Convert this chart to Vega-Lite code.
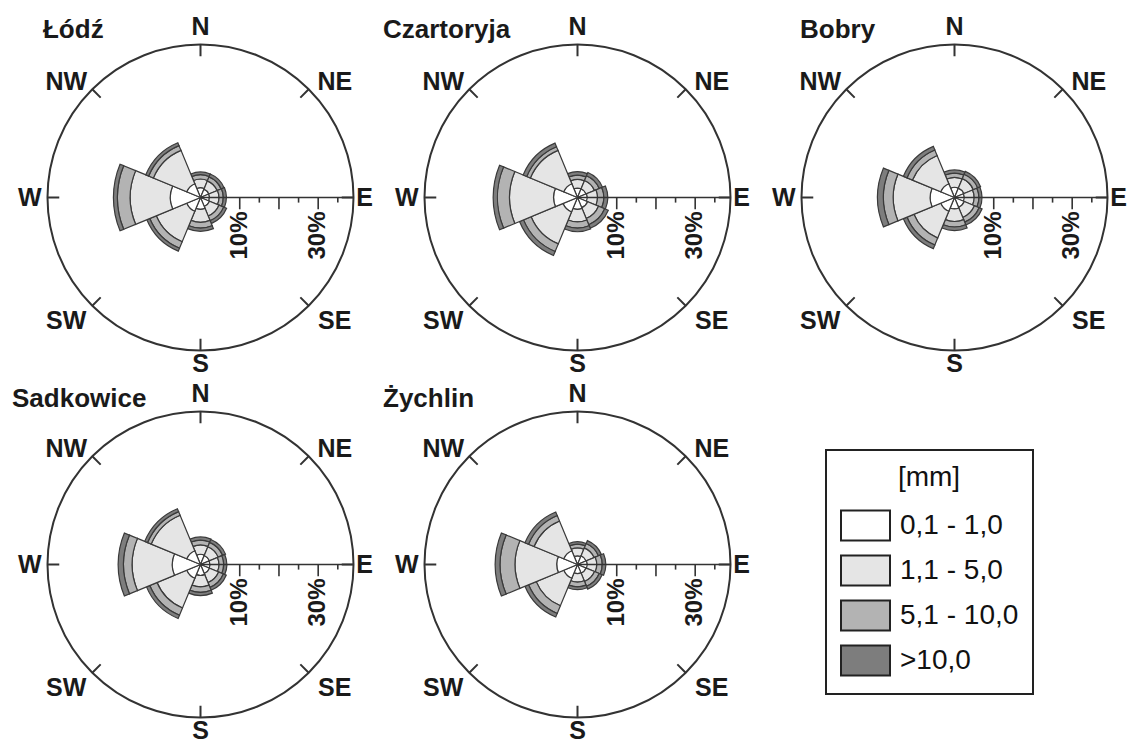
{
"$schema":"https://vega.github.io/schema/vega-lite/v6.json",
"autosize":{"type":"pad"},
"padding":{"left":12,"top":14,"right":0,"bottom":0},
"background":"#ffffff",
"bounds":"flush",
"spacing":0,
"columns":3,
"datasets":{
"rose":[
{"station":"Łódź","deg":0,"0,1 - 1,0":2.5,"1,1 - 5,0":2.2,"5,1 - 10,0":1.1,">10,0":0.7},
{"station":"Łódź","deg":45,"0,1 - 1,0":2.3,"1,1 - 5,0":2.3,"5,1 - 10,0":1.1,">10,0":0.8},
{"station":"Łódź","deg":90,"0,1 - 1,0":2.3,"1,1 - 5,0":2.4,"5,1 - 10,0":1.1,">10,0":0.8},
{"station":"Łódź","deg":135,"0,1 - 1,0":2.5,"1,1 - 5,0":2.6,"5,1 - 10,0":1.3,">10,0":0.8},
{"station":"Łódź","deg":180,"0,1 - 1,0":3.0,"1,1 - 5,0":3.3,"5,1 - 10,0":1.5,">10,0":0.8},
{"station":"Łódź","deg":225,"0,1 - 1,0":3.8,"1,1 - 5,0":8.4,"5,1 - 10,0":1.8,">10,0":0.8},
{"station":"Łódź","deg":270,"0,1 - 1,0":7.7,"1,1 - 5,0":10.2,"5,1 - 10,0":3.3,">10,0":1.0},
{"station":"Łódź","deg":315,"0,1 - 1,0":3.8,"1,1 - 5,0":9.2,"5,1 - 10,0":1.3,">10,0":0.8},
{"station":"Czartoryja","deg":0,"0,1 - 1,0":2.4,"1,1 - 5,0":2.2,"5,1 - 10,0":1.1,">10,0":0.9},
{"station":"Czartoryja","deg":45,"0,1 - 1,0":2.4,"1,1 - 5,0":2.3,"5,1 - 10,0":1.3,">10,0":0.9},
{"station":"Czartoryja","deg":90,"0,1 - 1,0":2.5,"1,1 - 5,0":2.6,"5,1 - 10,0":1.6,">10,0":1.0},
{"station":"Czartoryja","deg":135,"0,1 - 1,0":2.8,"1,1 - 5,0":3.0,"5,1 - 10,0":1.7,">10,0":1.0},
{"station":"Czartoryja","deg":180,"0,1 - 1,0":3.0,"1,1 - 5,0":3.2,"5,1 - 10,0":1.6,">10,0":0.9},
{"station":"Czartoryja","deg":225,"0,1 - 1,0":4.0,"1,1 - 5,0":8.8,"5,1 - 10,0":2.1,">10,0":1.1},
{"station":"Czartoryja","deg":270,"0,1 - 1,0":6.1,"1,1 - 5,0":11.2,"5,1 - 10,0":3.1,">10,0":1.1},
{"station":"Czartoryja","deg":315,"0,1 - 1,0":3.8,"1,1 - 5,0":9.2,"5,1 - 10,0":1.0,">10,0":1.0},
{"station":"Bobry","deg":0,"0,1 - 1,0":2.6,"1,1 - 5,0":2.5,"5,1 - 10,0":1.1,">10,0":0.8},
{"station":"Bobry","deg":45,"0,1 - 1,0":2.6,"1,1 - 5,0":2.6,"5,1 - 10,0":1.2,">10,0":0.8},
{"station":"Bobry","deg":90,"0,1 - 1,0":2.5,"1,1 - 5,0":2.5,"5,1 - 10,0":1.2,">10,0":0.8},
{"station":"Bobry","deg":135,"0,1 - 1,0":2.7,"1,1 - 5,0":2.8,"5,1 - 10,0":1.3,">10,0":0.8},
{"station":"Bobry","deg":180,"0,1 - 1,0":2.9,"1,1 - 5,0":3.2,"5,1 - 10,0":1.4,">10,0":0.9},
{"station":"Bobry","deg":225,"0,1 - 1,0":3.8,"1,1 - 5,0":7.4,"5,1 - 10,0":1.9,">10,0":1.0},
{"station":"Bobry","deg":270,"0,1 - 1,0":6.2,"1,1 - 5,0":9.4,"5,1 - 10,0":2.5,">10,0":1.5},
{"station":"Bobry","deg":315,"0,1 - 1,0":3.8,"1,1 - 5,0":7.8,"5,1 - 10,0":1.5,">10,0":1.0},
{"station":"Sadkowice","deg":0,"0,1 - 1,0":2.6,"1,1 - 5,0":2.4,"5,1 - 10,0":1.2,">10,0":0.8},
{"station":"Sadkowice","deg":45,"0,1 - 1,0":2.5,"1,1 - 5,0":2.4,"5,1 - 10,0":1.2,">10,0":0.8},
{"station":"Sadkowice","deg":90,"0,1 - 1,0":2.4,"1,1 - 5,0":2.3,"5,1 - 10,0":1.2,">10,0":0.8},
{"station":"Sadkowice","deg":135,"0,1 - 1,0":2.5,"1,1 - 5,0":2.5,"5,1 - 10,0":1.3,">10,0":0.8},
{"station":"Sadkowice","deg":180,"0,1 - 1,0":2.8,"1,1 - 5,0":2.9,"5,1 - 10,0":1.4,">10,0":0.8},
{"station":"Sadkowice","deg":225,"0,1 - 1,0":3.8,"1,1 - 5,0":8.2,"5,1 - 10,0":2.0,">10,0":0.9},
{"station":"Sadkowice","deg":270,"0,1 - 1,0":7.2,"1,1 - 5,0":10.2,"5,1 - 10,0":2.2,">10,0":1.4},
{"station":"Sadkowice","deg":315,"0,1 - 1,0":3.8,"1,1 - 5,0":9.8,"5,1 - 10,0":1.0,">10,0":0.8},
{"station":"Żychlin","deg":0,"0,1 - 1,0":2.2,"1,1 - 5,0":2.0,"5,1 - 10,0":1.0,">10,0":0.6},
{"station":"Żychlin","deg":45,"0,1 - 1,0":2.4,"1,1 - 5,0":2.2,"5,1 - 10,0":1.2,">10,0":0.8},
{"station":"Żychlin","deg":90,"0,1 - 1,0":2.5,"1,1 - 5,0":2.4,"5,1 - 10,0":1.4,">10,0":0.9},
{"station":"Żychlin","deg":135,"0,1 - 1,0":2.4,"1,1 - 5,0":2.3,"5,1 - 10,0":1.3,">10,0":0.8},
{"station":"Żychlin","deg":180,"0,1 - 1,0":2.3,"1,1 - 5,0":2.2,"5,1 - 10,0":1.2,">10,0":0.7},
{"station":"Żychlin","deg":225,"0,1 - 1,0":3.8,"1,1 - 5,0":7.6,"5,1 - 10,0":2.1,">10,0":1.0},
{"station":"Żychlin","deg":270,"0,1 - 1,0":5.3,"1,1 - 5,0":10.6,"5,1 - 10,0":3.8,">10,0":1.3},
{"station":"Żychlin","deg":315,"0,1 - 1,0":3.8,"1,1 - 5,0":8.2,"5,1 - 10,0":1.5,">10,0":1.0}
],
"compass":[{"dir":"N","deg":0},{"dir":"NE","deg":45},{"dir":"E","deg":90},{"dir":"SE","deg":135},{"dir":"S","deg":180},{"dir":"SW","deg":225},{"dir":"W","deg":270},{"dir":"NW","deg":315}],
"ticks":[{"pct":10},{"pct":15},{"pct":20},{"pct":25},{"pct":30},{"pct":35}],
"ticklabels":[{"pct":10,"label":"10%"},{"pct":30,"label":"30%"}],
"stations":[{"station":"Łódź"},{"station":"Czartoryja"},{"station":"Bobry"},{"station":"Sadkowice"},{"station":"Żychlin"}],
"one":[{"k":1}]
},
"concat":[
{"width":377,"height":367,
"layer":[
{"data":{"name":"rose"},"transform":[{"filter":"datum.station === 'Łódź'"},{"fold":["0,1 - 1,0","1,1 - 5,0","5,1 - 10,0",">10,0"],"as":["class","v"]},{"bin":{"extent":[-22.5,337.5],"step":45,"anchor":-22.5,"nice":false},"field":"deg","as":["d0","d1"]},{"stack":"v","groupby":["deg"],"sort":[{"field":"class","order":"ascending"}],"as":["r0","r1"]}],
"mark":{"type":"arc","stroke":"#3a3a3a","strokeWidth":1.2},
"encoding":{"theta":{"field":"d0","type":"quantitative","stack":null,"scale":{"domain":[0,360],"range":[0,6.283185307179586],"nice":false,"zero":false}},"theta2":{"field":"d1"},"radius":{"field":"r1","type":"quantitative","stack":null,"scale":{"type":"linear","domain":[0,39],"range":[0,153],"nice":false,"zero":true}},"radius2":{"field":"r0"},"color":{"field":"class","type":"nominal","title":"[mm]","scale":{"domain":["0,1 - 1,0","1,1 - 5,0","5,1 - 10,0",">10,0"],"range":["#ffffff","#e5e5e5","#b3b3b3","#7d7d7d"]}}}},
{"data":{"name":"one"},"mark":{"type":"arc","filled":false,"stroke":"#333333","strokeWidth":2},"encoding":{"theta":{"datum":0,"type":"quantitative"},"theta2":{"datum":360},"radius":{"datum":39,"type":"quantitative"}}},
{"data":{"name":"compass"},"mark":{"type":"arc","filled":false,"stroke":"#333333","strokeWidth":2},"encoding":{"theta":{"field":"deg","type":"quantitative","stack":null},"theta2":{"field":"deg"},"radius":{"datum":36,"type":"quantitative"},"radius2":{"datum":39}}},
{"data":{"name":"one"},"mark":{"type":"arc","filled":false,"stroke":"#333333","strokeWidth":1.6},"encoding":{"theta":{"datum":90,"type":"quantitative"},"theta2":{"datum":90},"radius":{"datum":39,"type":"quantitative"},"radius2":{"datum":0}}},
{"data":{"name":"ticks"},"transform":[{"filter":"datum.pct % 10 === 0"}],"mark":{"type":"rule","stroke":"#333333","strokeWidth":1.6},"encoding":{"x":{"field":"pct","type":"quantitative","axis":null,"scale":{"domain":[-48.05,48.05],"nice":false,"zero":false}},"y":{"datum":0,"type":"quantitative","axis":null,"scale":{"domain":[-46.77,46.77],"nice":false,"zero":false}},"y2":{"datum":-3}}},
{"data":{"name":"ticks"},"transform":[{"filter":"datum.pct % 10 !== 0"}],"mark":{"type":"rule","stroke":"#333333","strokeWidth":1.6},"encoding":{"x":{"field":"pct","type":"quantitative","axis":null},"y":{"datum":0,"type":"quantitative","axis":null},"y2":{"datum":-1.3}}},
{"data":{"name":"ticklabels"},"mark":{"type":"text","angle":270,"align":"right","baseline":"middle","dx":-14,"fontSize":24,"fontWeight":"bold","color":"#1a1a1a"},"encoding":{"x":{"field":"pct","type":"quantitative","axis":null},"y":{"datum":0,"type":"quantitative","axis":null},"text":{"field":"label"}}},
{"data":{"name":"stations"},"transform":[{"filter":"datum.station === 'Łódź'"}],"mark":{"type":"text","align":"left","baseline":"alphabetic","fontSize":26,"fontWeight":"bold","color":"#1a1a1a"},"encoding":{"x":{"datum":-40.15,"type":"quantitative","axis":null},"y":{"datum":40.66,"type":"quantitative","axis":null},"text":{"field":"station"}}},
{"data":{"name":"compass"},"transform":[{"filter":"datum.deg === 0 || datum.deg === 270"}],"mark":{"type":"text","fontSize":25,"fontWeight":"bold","color":"#1a1a1a","align":"center","baseline":"middle"},"encoding":{"theta":{"field":"deg","type":"quantitative","stack":null},"radius":{"datum":43.5,"type":"quantitative"},"text":{"field":"dir"}}},
{"data":{"name":"compass"},"transform":[{"filter":"datum.deg === 90"}],"mark":{"type":"text","fontSize":25,"fontWeight":"bold","color":"#1a1a1a","align":"center","baseline":"middle"},"encoding":{"theta":{"field":"deg","type":"quantitative","stack":null},"radius":{"datum":41.8,"type":"quantitative"},"text":{"field":"dir"}}},
{"data":{"name":"compass"},"transform":[{"filter":"datum.deg === 180"}],"mark":{"type":"text","fontSize":25,"fontWeight":"bold","color":"#1a1a1a","align":"center","baseline":"middle"},"encoding":{"theta":{"field":"deg","type":"quantitative","stack":null},"radius":{"datum":42.4,"type":"quantitative"},"text":{"field":"dir"}}},
{"data":{"name":"compass"},"transform":[{"filter":"datum.deg === 45 || datum.deg === 135"}],"mark":{"type":"text","fontSize":25,"fontWeight":"bold","color":"#1a1a1a","align":"center","baseline":"middle","dx":15,"dy":4},"encoding":{"theta":{"field":"deg","type":"quantitative","stack":null},"radius":{"datum":43,"type":"quantitative"},"text":{"field":"dir"}}},
{"data":{"name":"compass"},"transform":[{"filter":"datum.deg === 225 || datum.deg === 315"}],"mark":{"type":"text","fontSize":25,"fontWeight":"bold","color":"#1a1a1a","align":"center","baseline":"middle","dx":-15,"dy":4},"encoding":{"theta":{"field":"deg","type":"quantitative","stack":null},"radius":{"datum":43,"type":"quantitative"},"text":{"field":"dir"}}}
]},
{"width":377,"height":367,
"layer":[
{"data":{"name":"rose"},"transform":[{"filter":"datum.station === 'Czartoryja'"},{"fold":["0,1 - 1,0","1,1 - 5,0","5,1 - 10,0",">10,0"],"as":["class","v"]},{"bin":{"extent":[-22.5,337.5],"step":45,"anchor":-22.5,"nice":false},"field":"deg","as":["d0","d1"]},{"stack":"v","groupby":["deg"],"sort":[{"field":"class","order":"ascending"}],"as":["r0","r1"]}],
"mark":{"type":"arc","stroke":"#3a3a3a","strokeWidth":1.2},
"encoding":{"theta":{"field":"d0","type":"quantitative","stack":null,"scale":{"domain":[0,360],"range":[0,6.283185307179586],"nice":false,"zero":false}},"theta2":{"field":"d1"},"radius":{"field":"r1","type":"quantitative","stack":null,"scale":{"type":"linear","domain":[0,39],"range":[0,153],"nice":false,"zero":true}},"radius2":{"field":"r0"},"color":{"field":"class","type":"nominal","title":"[mm]","scale":{"domain":["0,1 - 1,0","1,1 - 5,0","5,1 - 10,0",">10,0"],"range":["#ffffff","#e5e5e5","#b3b3b3","#7d7d7d"]}}}},
{"data":{"name":"one"},"mark":{"type":"arc","filled":false,"stroke":"#333333","strokeWidth":2},"encoding":{"theta":{"datum":0,"type":"quantitative"},"theta2":{"datum":360},"radius":{"datum":39,"type":"quantitative"}}},
{"data":{"name":"compass"},"mark":{"type":"arc","filled":false,"stroke":"#333333","strokeWidth":2},"encoding":{"theta":{"field":"deg","type":"quantitative","stack":null},"theta2":{"field":"deg"},"radius":{"datum":36,"type":"quantitative"},"radius2":{"datum":39}}},
{"data":{"name":"one"},"mark":{"type":"arc","filled":false,"stroke":"#333333","strokeWidth":1.6},"encoding":{"theta":{"datum":90,"type":"quantitative"},"theta2":{"datum":90},"radius":{"datum":39,"type":"quantitative"},"radius2":{"datum":0}}},
{"data":{"name":"ticks"},"transform":[{"filter":"datum.pct % 10 === 0"}],"mark":{"type":"rule","stroke":"#333333","strokeWidth":1.6},"encoding":{"x":{"field":"pct","type":"quantitative","axis":null,"scale":{"domain":[-48.05,48.05],"nice":false,"zero":false}},"y":{"datum":0,"type":"quantitative","axis":null,"scale":{"domain":[-46.77,46.77],"nice":false,"zero":false}},"y2":{"datum":-3}}},
{"data":{"name":"ticks"},"transform":[{"filter":"datum.pct % 10 !== 0"}],"mark":{"type":"rule","stroke":"#333333","strokeWidth":1.6},"encoding":{"x":{"field":"pct","type":"quantitative","axis":null},"y":{"datum":0,"type":"quantitative","axis":null},"y2":{"datum":-1.3}}},
{"data":{"name":"ticklabels"},"mark":{"type":"text","angle":270,"align":"right","baseline":"middle","dx":-14,"fontSize":24,"fontWeight":"bold","color":"#1a1a1a"},"encoding":{"x":{"field":"pct","type":"quantitative","axis":null},"y":{"datum":0,"type":"quantitative","axis":null},"text":{"field":"label"}}},
{"data":{"name":"stations"},"transform":[{"filter":"datum.station === 'Czartoryja'"}],"mark":{"type":"text","align":"left","baseline":"alphabetic","fontSize":26,"fontWeight":"bold","color":"#1a1a1a"},"encoding":{"x":{"datum":-49.58,"type":"quantitative","axis":null},"y":{"datum":40.66,"type":"quantitative","axis":null},"text":{"field":"station"}}},
{"data":{"name":"compass"},"transform":[{"filter":"datum.deg === 0 || datum.deg === 270"}],"mark":{"type":"text","fontSize":25,"fontWeight":"bold","color":"#1a1a1a","align":"center","baseline":"middle"},"encoding":{"theta":{"field":"deg","type":"quantitative","stack":null},"radius":{"datum":43.5,"type":"quantitative"},"text":{"field":"dir"}}},
{"data":{"name":"compass"},"transform":[{"filter":"datum.deg === 90"}],"mark":{"type":"text","fontSize":25,"fontWeight":"bold","color":"#1a1a1a","align":"center","baseline":"middle"},"encoding":{"theta":{"field":"deg","type":"quantitative","stack":null},"radius":{"datum":41.8,"type":"quantitative"},"text":{"field":"dir"}}},
{"data":{"name":"compass"},"transform":[{"filter":"datum.deg === 180"}],"mark":{"type":"text","fontSize":25,"fontWeight":"bold","color":"#1a1a1a","align":"center","baseline":"middle"},"encoding":{"theta":{"field":"deg","type":"quantitative","stack":null},"radius":{"datum":42.4,"type":"quantitative"},"text":{"field":"dir"}}},
{"data":{"name":"compass"},"transform":[{"filter":"datum.deg === 45 || datum.deg === 135"}],"mark":{"type":"text","fontSize":25,"fontWeight":"bold","color":"#1a1a1a","align":"center","baseline":"middle","dx":15,"dy":4},"encoding":{"theta":{"field":"deg","type":"quantitative","stack":null},"radius":{"datum":43,"type":"quantitative"},"text":{"field":"dir"}}},
{"data":{"name":"compass"},"transform":[{"filter":"datum.deg === 225 || datum.deg === 315"}],"mark":{"type":"text","fontSize":25,"fontWeight":"bold","color":"#1a1a1a","align":"center","baseline":"middle","dx":-15,"dy":4},"encoding":{"theta":{"field":"deg","type":"quantitative","stack":null},"radius":{"datum":43,"type":"quantitative"},"text":{"field":"dir"}}}
]},
{"width":377,"height":367,
"layer":[
{"data":{"name":"rose"},"transform":[{"filter":"datum.station === 'Bobry'"},{"fold":["0,1 - 1,0","1,1 - 5,0","5,1 - 10,0",">10,0"],"as":["class","v"]},{"bin":{"extent":[-22.5,337.5],"step":45,"anchor":-22.5,"nice":false},"field":"deg","as":["d0","d1"]},{"stack":"v","groupby":["deg"],"sort":[{"field":"class","order":"ascending"}],"as":["r0","r1"]}],
"mark":{"type":"arc","stroke":"#3a3a3a","strokeWidth":1.2},
"encoding":{"theta":{"field":"d0","type":"quantitative","stack":null,"scale":{"domain":[0,360],"range":[0,6.283185307179586],"nice":false,"zero":false}},"theta2":{"field":"d1"},"radius":{"field":"r1","type":"quantitative","stack":null,"scale":{"type":"linear","domain":[0,39],"range":[0,153],"nice":false,"zero":true}},"radius2":{"field":"r0"},"color":{"field":"class","type":"nominal","title":"[mm]","scale":{"domain":["0,1 - 1,0","1,1 - 5,0","5,1 - 10,0",">10,0"],"range":["#ffffff","#e5e5e5","#b3b3b3","#7d7d7d"]}}}},
{"data":{"name":"one"},"mark":{"type":"arc","filled":false,"stroke":"#333333","strokeWidth":2},"encoding":{"theta":{"datum":0,"type":"quantitative"},"theta2":{"datum":360},"radius":{"datum":39,"type":"quantitative"}}},
{"data":{"name":"compass"},"mark":{"type":"arc","filled":false,"stroke":"#333333","strokeWidth":2},"encoding":{"theta":{"field":"deg","type":"quantitative","stack":null},"theta2":{"field":"deg"},"radius":{"datum":36,"type":"quantitative"},"radius2":{"datum":39}}},
{"data":{"name":"one"},"mark":{"type":"arc","filled":false,"stroke":"#333333","strokeWidth":1.6},"encoding":{"theta":{"datum":90,"type":"quantitative"},"theta2":{"datum":90},"radius":{"datum":39,"type":"quantitative"},"radius2":{"datum":0}}},
{"data":{"name":"ticks"},"transform":[{"filter":"datum.pct % 10 === 0"}],"mark":{"type":"rule","stroke":"#333333","strokeWidth":1.6},"encoding":{"x":{"field":"pct","type":"quantitative","axis":null,"scale":{"domain":[-48.05,48.05],"nice":false,"zero":false}},"y":{"datum":0,"type":"quantitative","axis":null,"scale":{"domain":[-46.77,46.77],"nice":false,"zero":false}},"y2":{"datum":-3}}},
{"data":{"name":"ticks"},"transform":[{"filter":"datum.pct % 10 !== 0"}],"mark":{"type":"rule","stroke":"#333333","strokeWidth":1.6},"encoding":{"x":{"field":"pct","type":"quantitative","axis":null},"y":{"datum":0,"type":"quantitative","axis":null},"y2":{"datum":-1.3}}},
{"data":{"name":"ticklabels"},"mark":{"type":"text","angle":270,"align":"right","baseline":"middle","dx":-14,"fontSize":24,"fontWeight":"bold","color":"#1a1a1a"},"encoding":{"x":{"field":"pct","type":"quantitative","axis":null},"y":{"datum":0,"type":"quantitative","axis":null},"text":{"field":"label"}}},
{"data":{"name":"stations"},"transform":[{"filter":"datum.station === 'Bobry'"}],"mark":{"type":"text","align":"left","baseline":"alphabetic","fontSize":26,"fontWeight":"bold","color":"#1a1a1a"},"encoding":{"x":{"datum":-39.38,"type":"quantitative","axis":null},"y":{"datum":40.66,"type":"quantitative","axis":null},"text":{"field":"station"}}},
{"data":{"name":"compass"},"transform":[{"filter":"datum.deg === 0 || datum.deg === 270"}],"mark":{"type":"text","fontSize":25,"fontWeight":"bold","color":"#1a1a1a","align":"center","baseline":"middle"},"encoding":{"theta":{"field":"deg","type":"quantitative","stack":null},"radius":{"datum":43.5,"type":"quantitative"},"text":{"field":"dir"}}},
{"data":{"name":"compass"},"transform":[{"filter":"datum.deg === 90"}],"mark":{"type":"text","fontSize":25,"fontWeight":"bold","color":"#1a1a1a","align":"center","baseline":"middle"},"encoding":{"theta":{"field":"deg","type":"quantitative","stack":null},"radius":{"datum":41.8,"type":"quantitative"},"text":{"field":"dir"}}},
{"data":{"name":"compass"},"transform":[{"filter":"datum.deg === 180"}],"mark":{"type":"text","fontSize":25,"fontWeight":"bold","color":"#1a1a1a","align":"center","baseline":"middle"},"encoding":{"theta":{"field":"deg","type":"quantitative","stack":null},"radius":{"datum":42.4,"type":"quantitative"},"text":{"field":"dir"}}},
{"data":{"name":"compass"},"transform":[{"filter":"datum.deg === 45 || datum.deg === 135"}],"mark":{"type":"text","fontSize":25,"fontWeight":"bold","color":"#1a1a1a","align":"center","baseline":"middle","dx":15,"dy":4},"encoding":{"theta":{"field":"deg","type":"quantitative","stack":null},"radius":{"datum":43,"type":"quantitative"},"text":{"field":"dir"}}},
{"data":{"name":"compass"},"transform":[{"filter":"datum.deg === 225 || datum.deg === 315"}],"mark":{"type":"text","fontSize":25,"fontWeight":"bold","color":"#1a1a1a","align":"center","baseline":"middle","dx":-15,"dy":4},"encoding":{"theta":{"field":"deg","type":"quantitative","stack":null},"radius":{"datum":43,"type":"quantitative"},"text":{"field":"dir"}}}
]},
{"width":377,"height":367,
"layer":[
{"data":{"name":"rose"},"transform":[{"filter":"datum.station === 'Sadkowice'"},{"fold":["0,1 - 1,0","1,1 - 5,0","5,1 - 10,0",">10,0"],"as":["class","v"]},{"bin":{"extent":[-22.5,337.5],"step":45,"anchor":-22.5,"nice":false},"field":"deg","as":["d0","d1"]},{"stack":"v","groupby":["deg"],"sort":[{"field":"class","order":"ascending"}],"as":["r0","r1"]}],
"mark":{"type":"arc","stroke":"#3a3a3a","strokeWidth":1.2},
"encoding":{"theta":{"field":"d0","type":"quantitative","stack":null,"scale":{"domain":[0,360],"range":[0,6.283185307179586],"nice":false,"zero":false}},"theta2":{"field":"d1"},"radius":{"field":"r1","type":"quantitative","stack":null,"scale":{"type":"linear","domain":[0,39],"range":[0,153],"nice":false,"zero":true}},"radius2":{"field":"r0"},"color":{"field":"class","type":"nominal","title":"[mm]","scale":{"domain":["0,1 - 1,0","1,1 - 5,0","5,1 - 10,0",">10,0"],"range":["#ffffff","#e5e5e5","#b3b3b3","#7d7d7d"]}}}},
{"data":{"name":"one"},"mark":{"type":"arc","filled":false,"stroke":"#333333","strokeWidth":2},"encoding":{"theta":{"datum":0,"type":"quantitative"},"theta2":{"datum":360},"radius":{"datum":39,"type":"quantitative"}}},
{"data":{"name":"compass"},"mark":{"type":"arc","filled":false,"stroke":"#333333","strokeWidth":2},"encoding":{"theta":{"field":"deg","type":"quantitative","stack":null},"theta2":{"field":"deg"},"radius":{"datum":36,"type":"quantitative"},"radius2":{"datum":39}}},
{"data":{"name":"one"},"mark":{"type":"arc","filled":false,"stroke":"#333333","strokeWidth":1.6},"encoding":{"theta":{"datum":90,"type":"quantitative"},"theta2":{"datum":90},"radius":{"datum":39,"type":"quantitative"},"radius2":{"datum":0}}},
{"data":{"name":"ticks"},"transform":[{"filter":"datum.pct % 10 === 0"}],"mark":{"type":"rule","stroke":"#333333","strokeWidth":1.6},"encoding":{"x":{"field":"pct","type":"quantitative","axis":null,"scale":{"domain":[-48.05,48.05],"nice":false,"zero":false}},"y":{"datum":0,"type":"quantitative","axis":null,"scale":{"domain":[-46.77,46.77],"nice":false,"zero":false}},"y2":{"datum":-3}}},
{"data":{"name":"ticks"},"transform":[{"filter":"datum.pct % 10 !== 0"}],"mark":{"type":"rule","stroke":"#333333","strokeWidth":1.6},"encoding":{"x":{"field":"pct","type":"quantitative","axis":null},"y":{"datum":0,"type":"quantitative","axis":null},"y2":{"datum":-1.3}}},
{"data":{"name":"ticklabels"},"mark":{"type":"text","angle":270,"align":"right","baseline":"middle","dx":-14,"fontSize":24,"fontWeight":"bold","color":"#1a1a1a"},"encoding":{"x":{"field":"pct","type":"quantitative","axis":null},"y":{"datum":0,"type":"quantitative","axis":null},"text":{"field":"label"}}},
{"data":{"name":"stations"},"transform":[{"filter":"datum.station === 'Sadkowice'"}],"mark":{"type":"text","align":"left","baseline":"alphabetic","fontSize":26,"fontWeight":"bold","color":"#1a1a1a"},"encoding":{"x":{"datum":-48.05,"type":"quantitative","axis":null},"y":{"datum":40.15,"type":"quantitative","axis":null},"text":{"field":"station"}}},
{"data":{"name":"compass"},"transform":[{"filter":"datum.deg === 0 || datum.deg === 270"}],"mark":{"type":"text","fontSize":25,"fontWeight":"bold","color":"#1a1a1a","align":"center","baseline":"middle"},"encoding":{"theta":{"field":"deg","type":"quantitative","stack":null},"radius":{"datum":43.5,"type":"quantitative"},"text":{"field":"dir"}}},
{"data":{"name":"compass"},"transform":[{"filter":"datum.deg === 90"}],"mark":{"type":"text","fontSize":25,"fontWeight":"bold","color":"#1a1a1a","align":"center","baseline":"middle"},"encoding":{"theta":{"field":"deg","type":"quantitative","stack":null},"radius":{"datum":41.8,"type":"quantitative"},"text":{"field":"dir"}}},
{"data":{"name":"compass"},"transform":[{"filter":"datum.deg === 180"}],"mark":{"type":"text","fontSize":25,"fontWeight":"bold","color":"#1a1a1a","align":"center","baseline":"middle"},"encoding":{"theta":{"field":"deg","type":"quantitative","stack":null},"radius":{"datum":42.4,"type":"quantitative"},"text":{"field":"dir"}}},
{"data":{"name":"compass"},"transform":[{"filter":"datum.deg === 45 || datum.deg === 135"}],"mark":{"type":"text","fontSize":25,"fontWeight":"bold","color":"#1a1a1a","align":"center","baseline":"middle","dx":15,"dy":4},"encoding":{"theta":{"field":"deg","type":"quantitative","stack":null},"radius":{"datum":43,"type":"quantitative"},"text":{"field":"dir"}}},
{"data":{"name":"compass"},"transform":[{"filter":"datum.deg === 225 || datum.deg === 315"}],"mark":{"type":"text","fontSize":25,"fontWeight":"bold","color":"#1a1a1a","align":"center","baseline":"middle","dx":-15,"dy":4},"encoding":{"theta":{"field":"deg","type":"quantitative","stack":null},"radius":{"datum":43,"type":"quantitative"},"text":{"field":"dir"}}}
]},
{"width":377,"height":367,
"layer":[
{"data":{"name":"rose"},"transform":[{"filter":"datum.station === 'Żychlin'"},{"fold":["0,1 - 1,0","1,1 - 5,0","5,1 - 10,0",">10,0"],"as":["class","v"]},{"bin":{"extent":[-22.5,337.5],"step":45,"anchor":-22.5,"nice":false},"field":"deg","as":["d0","d1"]},{"stack":"v","groupby":["deg"],"sort":[{"field":"class","order":"ascending"}],"as":["r0","r1"]}],
"mark":{"type":"arc","stroke":"#3a3a3a","strokeWidth":1.2},
"encoding":{"theta":{"field":"d0","type":"quantitative","stack":null,"scale":{"domain":[0,360],"range":[0,6.283185307179586],"nice":false,"zero":false}},"theta2":{"field":"d1"},"radius":{"field":"r1","type":"quantitative","stack":null,"scale":{"type":"linear","domain":[0,39],"range":[0,153],"nice":false,"zero":true}},"radius2":{"field":"r0"},"color":{"field":"class","type":"nominal","title":"[mm]","scale":{"domain":["0,1 - 1,0","1,1 - 5,0","5,1 - 10,0",">10,0"],"range":["#ffffff","#e5e5e5","#b3b3b3","#7d7d7d"]}}}},
{"data":{"name":"one"},"mark":{"type":"arc","filled":false,"stroke":"#333333","strokeWidth":2},"encoding":{"theta":{"datum":0,"type":"quantitative"},"theta2":{"datum":360},"radius":{"datum":39,"type":"quantitative"}}},
{"data":{"name":"compass"},"mark":{"type":"arc","filled":false,"stroke":"#333333","strokeWidth":2},"encoding":{"theta":{"field":"deg","type":"quantitative","stack":null},"theta2":{"field":"deg"},"radius":{"datum":36,"type":"quantitative"},"radius2":{"datum":39}}},
{"data":{"name":"one"},"mark":{"type":"arc","filled":false,"stroke":"#333333","strokeWidth":1.6},"encoding":{"theta":{"datum":90,"type":"quantitative"},"theta2":{"datum":90},"radius":{"datum":39,"type":"quantitative"},"radius2":{"datum":0}}},
{"data":{"name":"ticks"},"transform":[{"filter":"datum.pct % 10 === 0"}],"mark":{"type":"rule","stroke":"#333333","strokeWidth":1.6},"encoding":{"x":{"field":"pct","type":"quantitative","axis":null,"scale":{"domain":[-48.05,48.05],"nice":false,"zero":false}},"y":{"datum":0,"type":"quantitative","axis":null,"scale":{"domain":[-46.77,46.77],"nice":false,"zero":false}},"y2":{"datum":-3}}},
{"data":{"name":"ticks"},"transform":[{"filter":"datum.pct % 10 !== 0"}],"mark":{"type":"rule","stroke":"#333333","strokeWidth":1.6},"encoding":{"x":{"field":"pct","type":"quantitative","axis":null},"y":{"datum":0,"type":"quantitative","axis":null},"y2":{"datum":-1.3}}},
{"data":{"name":"ticklabels"},"mark":{"type":"text","angle":270,"align":"right","baseline":"middle","dx":-14,"fontSize":24,"fontWeight":"bold","color":"#1a1a1a"},"encoding":{"x":{"field":"pct","type":"quantitative","axis":null},"y":{"datum":0,"type":"quantitative","axis":null},"text":{"field":"label"}}},
{"data":{"name":"stations"},"transform":[{"filter":"datum.station === 'Żychlin'"}],"mark":{"type":"text","align":"left","baseline":"alphabetic","fontSize":26,"fontWeight":"bold","color":"#1a1a1a"},"encoding":{"x":{"datum":-49.58,"type":"quantitative","axis":null},"y":{"datum":40.15,"type":"quantitative","axis":null},"text":{"field":"station"}}},
{"data":{"name":"compass"},"transform":[{"filter":"datum.deg === 0 || datum.deg === 270"}],"mark":{"type":"text","fontSize":25,"fontWeight":"bold","color":"#1a1a1a","align":"center","baseline":"middle"},"encoding":{"theta":{"field":"deg","type":"quantitative","stack":null},"radius":{"datum":43.5,"type":"quantitative"},"text":{"field":"dir"}}},
{"data":{"name":"compass"},"transform":[{"filter":"datum.deg === 90"}],"mark":{"type":"text","fontSize":25,"fontWeight":"bold","color":"#1a1a1a","align":"center","baseline":"middle"},"encoding":{"theta":{"field":"deg","type":"quantitative","stack":null},"radius":{"datum":41.8,"type":"quantitative"},"text":{"field":"dir"}}},
{"data":{"name":"compass"},"transform":[{"filter":"datum.deg === 180"}],"mark":{"type":"text","fontSize":25,"fontWeight":"bold","color":"#1a1a1a","align":"center","baseline":"middle"},"encoding":{"theta":{"field":"deg","type":"quantitative","stack":null},"radius":{"datum":42.4,"type":"quantitative"},"text":{"field":"dir"}}},
{"data":{"name":"compass"},"transform":[{"filter":"datum.deg === 45 || datum.deg === 135"}],"mark":{"type":"text","fontSize":25,"fontWeight":"bold","color":"#1a1a1a","align":"center","baseline":"middle","dx":15,"dy":4},"encoding":{"theta":{"field":"deg","type":"quantitative","stack":null},"radius":{"datum":43,"type":"quantitative"},"text":{"field":"dir"}}},
{"data":{"name":"compass"},"transform":[{"filter":"datum.deg === 225 || datum.deg === 315"}],"mark":{"type":"text","fontSize":25,"fontWeight":"bold","color":"#1a1a1a","align":"center","baseline":"middle","dx":-15,"dy":4},"encoding":{"theta":{"field":"deg","type":"quantitative","stack":null},"radius":{"datum":43,"type":"quantitative"},"text":{"field":"dir"}}}
]}
],
"config":{
"font":"Liberation Sans",
"view":{"stroke":null},
"legend":{"orient":"none","legendX":814,"legendY":436,"padding":14,"strokeColor":"#222222","strokeWidth":2,"titleFontSize":28,"titleFontWeight":"normal","titleColor":"#111111","titleAnchor":"middle","titlePadding":8,"labelFontSize":28,"labelColor":"#111111","labelOffset":9,"labelLimit":400,"symbolType":"M-1,-0.612L1,-0.612L1,0.612L-1,0.612Z","symbolSize":2401,"symbolStrokeColor":"#222222","symbolStrokeWidth":2,"rowPadding":-4}
}
}
